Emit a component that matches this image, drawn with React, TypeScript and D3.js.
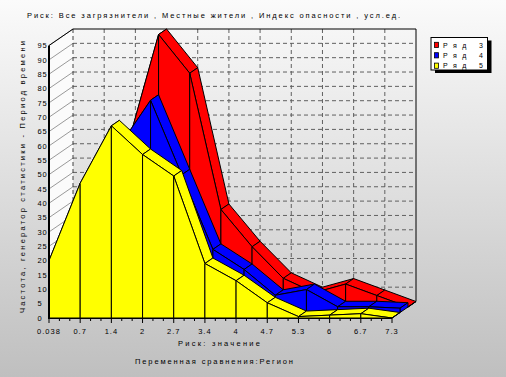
import React from "react";
import * as d3 from "d3";

const categories = ["0.038", "0.7", "1.4", "2", "2.7", "3.4", "4", "4.7", "5.3", "6", "6.7", "7.3"];
const ryad3 = [18, 44, 56, 95, 81.5, 34, 21, 10, 5, 8, 4, 0];
const ryad4 = [17, 42, 58, 74, 48, 22, 15, 6, 8, 2, 2, 1.5];
const ryad5 = [20, 47, 67, 57, 49.5, 19, 13, 5.3, 0.5, 1, 1.5, 0];
const seriesNames = ["Ряд 3", "Ряд 4", "Ряд 5"];
const seriesColors = ["#ff0000", "#0000ff", "#ffff00"];
const yTicks = d3.range(0, 96, 5);

const titleText = "Риск: Все загрязнители , Местные жители , Индекс опасности ,  усл.ед.";
const yTitle = "Частота, генератор статистики - Период времени";
const xTitle = "Риск: значение";
const compareTitle = "Переменная сравнения:Регион";

const FONT = "'Liberation Sans', Arial, sans-serif";

export default function App() {
  const W = 506, H = 377;
  const x = d3.scaleLinear().domain([0, categories.length - 1]).range([49, 392]);
  const y = d3.scaleLinear().domain([0, 95]).range([318, 45.5]);
  const slots = 3;
  const sx = 8, sy = -5.5;
  const DX = sx * slots, DY = sy * slots;
  const P = (i: number, v: number, z: number) => [x(i) + sx * z, y(v) + sy * z];
  const pts = (arr: number[][]) => arr.map((p) => p[0].toFixed(2) + "," + p[1].toFixed(2)).join(" ");

  const series = [
    { name: seriesNames[0], color: seriesColors[0], vals: ryad3, z: 2 },
    { name: seriesNames[1], color: seriesColors[1], vals: ryad4, z: 1 },
    { name: seriesNames[2], color: seriesColors[2], vals: ryad5, z: 0 },
  ];

  const faces: { key: string; points: string; fill: string }[] = [];
  series.forEach((s) => {
    const n = s.vals.length;
    const z = s.z;
    for (let i = 0; i < n - 1; i++) {
      faces.push({
        key: s.name + "t" + i,
        fill: s.color,
        points: pts([P(i, s.vals[i], z), P(i + 1, s.vals[i + 1], z), P(i + 1, s.vals[i + 1], z + 1), P(i, s.vals[i], z + 1)]),
      });
    }
    faces.push({
      key: s.name + "end",
      fill: s.color,
      points: pts([P(n - 1, 0, z), P(n - 1, s.vals[n - 1], z), P(n - 1, s.vals[n - 1], z + 1), P(n - 1, 0, z + 1)]),
    });
    for (let i = 0; i < n - 1; i++) {
      faces.push({
        key: s.name + "f" + i,
        fill: s.color,
        points: pts([P(i, 0, z), P(i, s.vals[i], z), P(i + 1, s.vals[i + 1], z), P(i + 1, 0, z)]),
      });
    }
  });

  const xL = x(0), xR = x(categories.length - 1);
  const yB = y(0), yT = y(95);
  const step = x(1) - x(0);

  const minorTicks: number[] = [];
  for (let i = 0; i < categories.length - 1; i++) {
    minorTicks.push(x(i) + step / 3, x(i) + (2 * step) / 3);
  }

  return (
    <svg width={W} height={H} style={{ position: "absolute", left: 0, top: 0 }} fontFamily={FONT}>
      <defs>
        <linearGradient id="bg" x1="0" y1="0" x2="0" y2="1">
          <stop offset="0" stopColor="#fbfbfb" />
          <stop offset="1" stopColor="#bfbfbf" />
        </linearGradient>
        <linearGradient id="wall" x1="0" y1="0" x2="0" y2="1">
          <stop offset="0" stopColor="#f6f6f6" />
          <stop offset="1" stopColor="#cfcfcf" />
        </linearGradient>
      </defs>
      <rect x={0} y={0} width={W} height={H} fill="url(#bg)" />

      {/* back wall */}
      <rect x={xL + DX} y={yT + DY} width={xR - xL} height={yB - yT} fill="url(#wall)" />
      {/* left wall */}
      <polygon points={pts([[xL, yB], [xL, yT], [xL + DX, yT + DY], [xL + DX, yB + DY]])} fill="#fbfbfb" />
      {yTicks.map((v) => (
        <line key={"h" + v} x1={xL} y1={y(v)} x2={xL + DX} y2={y(v) + DY} stroke="#808080" strokeWidth={0.8} />
      ))}
      {/* back wall grid */}
      {yTicks.filter((v) => v > 0 && v < 95).map((v) => (
        <line key={"g" + v} x1={xL + DX} x2={xR + DX} y1={y(v) + DY} y2={y(v) + DY} stroke="#606060" strokeWidth={1} strokeDasharray="4,3" />
      ))}
      {categories.map((c, i) => i > 0 && i < categories.length - 1 ? (
        <line key={"vg" + i} x1={x(i) + DX} x2={x(i) + DX} y1={yT + DY} y2={yB + DY} stroke="#606060" strokeWidth={1} strokeDasharray="4,3" />
      ) : null)}
      <line x1={xL + DX} x2={xL + DX} y1={yT + DY} y2={yB + DY} stroke="#404040" strokeWidth={1} strokeDasharray="4,3" />
      <polyline points={pts([[xL, yT], [xL + DX, yT + DY], [xR + DX, yT + DY], [xR + DX, yB + DY]])} fill="none" stroke="#000" strokeWidth={1} />

      {/* series */}
      {faces.map((f) => (
        <polygon key={f.key} points={f.points} fill={f.fill} stroke="#000" strokeWidth={1} strokeLinejoin="round" />
      ))}

      {/* axes */}
      <line x1={xL} x2={xL} y1={yT} y2={yB + 1} stroke="#000" strokeWidth={2} />
      <line x1={xL} x2={xR} y1={yB + 0.5} y2={yB + 0.5} stroke="#000" strokeWidth={1} />
      {categories.map((c, i) => (
        <line key={"xt" + i} x1={x(i)} x2={x(i)} y1={yB} y2={yB + 5} stroke="#000" strokeWidth={1} />
      ))}
      {minorTicks.map((t, k) => (
        <line key={"mt" + k} x1={t} x2={t} y1={yB} y2={yB + 3} stroke="#000" strokeWidth={1} />
      ))}
      {categories.map((c, i) => (
        <text key={"xl" + i} x={x(i)} y={334} fontSize={7.5} letterSpacing={1} textAnchor="middle" fill="#000">{c}</text>
      ))}
      {yTicks.map((v) => (
        <text key={"yl" + v} x={37.5} y={y(v) + 2.8} fontSize={7.5} letterSpacing={0.8} fill="#000">{v}</text>
      ))}

      {/* titles */}
      <text x={27} y={18} fontSize={7.5} textLength={373} lengthAdjust="spacing" fill="#000">{titleText}</text>
      <text x={178} y={346} fontSize={7.5} textLength={82} lengthAdjust="spacing" fill="#000">{xTitle}</text>
      <text x={135} y={364} fontSize={7.5} textLength={158} lengthAdjust="spacing" fill="#000">{compareTitle}</text>
      <text transform="translate(25,177) rotate(-90)" x={0} y={0} fontSize={7.5} textAnchor="middle" textLength={272} lengthAdjust="spacing" fill="#000">{yTitle}</text>

      {/* legend */}
      <rect x={435} y={40.5} width={56.5} height={32.5} fill="#000" />
      <rect x={431} y={37.5} width={56.5} height={32.5} fill="#fff" stroke="#000" strokeWidth={1} />
      {series.map((s, k) => (
        <g key={"lg" + k}>
          <rect x={434.5} y={42.3 + k * 10.4} width={4} height={5.2} fill={s.color} stroke="#000" strokeWidth={0.8} />
          <text x={443} y={47.6 + k * 10.4} fontSize={7} textLength={40} lengthAdjust="spacing" fill="#000">{s.name}</text>
        </g>
      ))}
    </svg>
  );
}
